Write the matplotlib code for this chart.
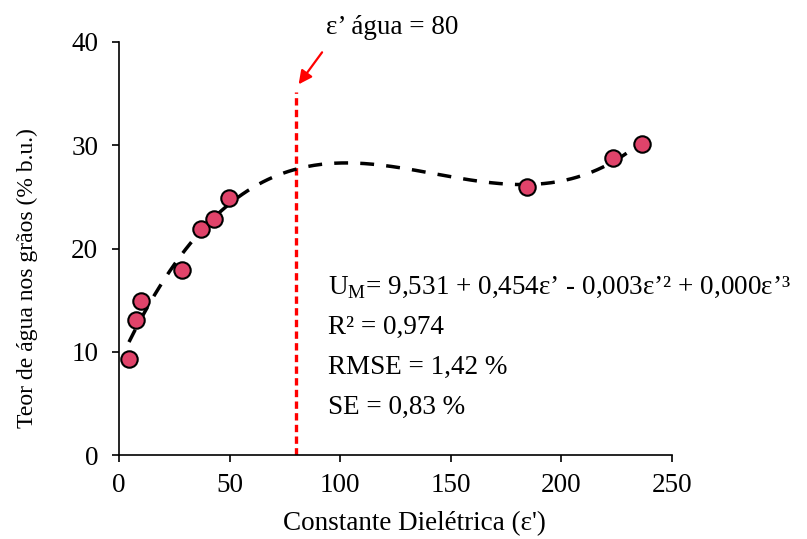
import numpy as np
import matplotlib
matplotlib.use('Agg')
import matplotlib.pyplot as plt

plt.rcParams['font.family'] = ['Liberation Serif', 'DejaVu Serif']
plt.rcParams['mathtext.fontset'] = 'custom'
plt.rcParams['mathtext.rm'] = 'Liberation Serif'

# data
permittivity = [4.5, 7.7, 9.9, 28.5, 37.0, 43.0, 49.7, 184.4, 223.3, 236.4]
moisture = [9.3, 13.1, 14.9, 17.9, 21.9, 22.9, 24.9, 26.0, 28.8, 30.1]
water_eps = 80
stats_lines = [r'U$_\mathregular{M}$= 9,531 + 0,454ε’ - 0,003ε’² + 0,000ε’³',
               'R² = 0,974',
               'RMSE = 1,42 %',
               'SE = 0,83 %']
stats_y = [16.3, 12.4, 8.45, 4.65]

fs = 19.5

fig = plt.figure(figsize=(8.07, 5.39), dpi=100)
ax = fig.add_axes([0.1475, 0.1558, 0.6852, 0.7663])

# cubic trendline
coef = np.polyfit(permittivity, moisture, 3)
xs = np.linspace(min(permittivity), max(permittivity), 300)
ax.plot(xs, np.polyval(coef, xs), color='black', linewidth=2.5,
        dashes=(4, 3.5), zorder=2)

ax.scatter(permittivity, moisture, s=140, color='#E0436A',
           edgecolor='black', linewidth=1.5, zorder=3)

# water permittivity marker
ax.plot([water_eps, water_eps], [0, 35.2], color='#FF0000', linewidth=2.4,
        dashes=(2.2, 1.3), zorder=1)
ax.annotate('', xy=(water_eps + 1.2, 35.9), xytext=(water_eps + 11.8, 39.0),
            annotation_clip=False,
            arrowprops=dict(arrowstyle='-|>', color='#FF0000', lw=1.6,
                            mutation_scale=20, shrinkA=0, shrinkB=0))
ax.text(123.4, 41.45, 'ε’ água = 80', ha='center', va='center', fontsize=fs,
        clip_on=False)

for line, y in zip(stats_lines, stats_y):
    ax.text(94.5, y, line, fontsize=fs, va='center', ha='left')

ax.set_xlim(0, 250)
ax.set_ylim(0, 40)
ax.set_xticks(range(0, 251, 50))
ax.set_yticks(range(0, 41, 10))
ax.tick_params(labelsize=fs, width=1.2, length=5, direction='out')
ax.tick_params(axis='y', pad=10)
ax.tick_params(axis='x', pad=8)
ax.spines['top'].set_visible(False)
ax.spines['right'].set_visible(False)
ax.spines['left'].set_linewidth(1.2)
ax.spines['bottom'].set_linewidth(1.2)
ax.set_xlabel("Constante Dielétrica (ε')", fontsize=fs)
ax.set_ylabel('Teor de água nos grãos (% b.u.)', fontsize=17)
ax.xaxis.set_label_coords(0.535, -0.165)
ax.yaxis.set_label_coords(-0.166, 0.4286)
ax.xaxis.label.set_va('center')
ax.yaxis.label.set_va('center')

fig.savefig('out.png', dpi=100)
